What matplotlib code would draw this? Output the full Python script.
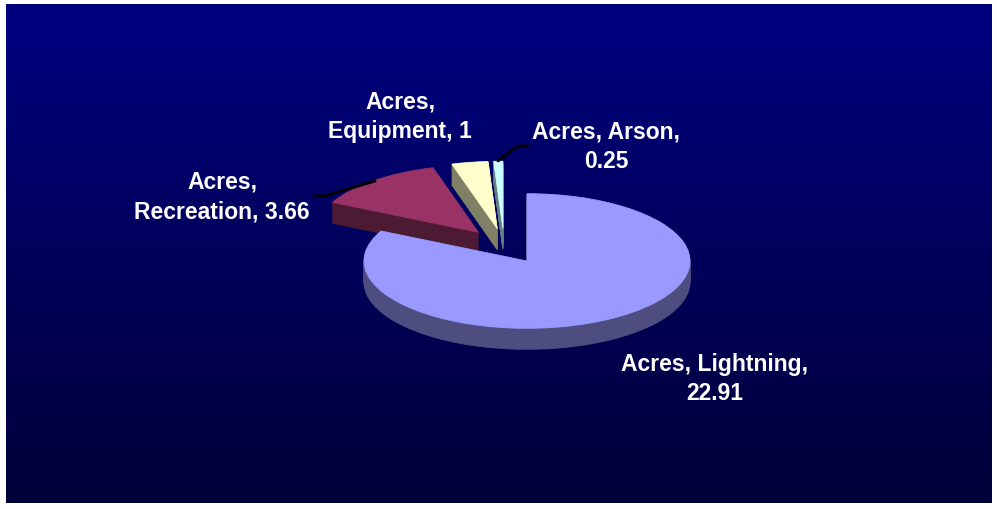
import numpy as np
import matplotlib
matplotlib.use("Agg")
import matplotlib.pyplot as plt
from matplotlib.colors import to_rgb

# ---- data ----
categories = ["Lightning", "Recreation", "Equipment", "Arson"]
acres = [22.91, 3.66, 1, 0.25]
series_name = "Acres"
top_colors = ["#9999FF", "#993366", "#FFFFCC", "#CCFFFF"]
explode = [0, 0.245, 0.245, 0.245]
label_breaks = ["after_cat", "after_series", "after_series", "after_cat"]

W, H = 997, 510
fig = plt.figure(figsize=(W / 100, H / 100), dpi=100, facecolor="white")

# ---- gradient background ----
bx0, by0, bx1, by1 = 6, 5, 991, 504
bg = fig.add_axes([bx0 / W, (H - by1) / H, (bx1 - bx0) / W, (by1 - by0) / H])
t = np.linspace(0, 1, 256)[:, None, None]
c_top = np.array([0, 0, 128]) / 255
c_bot = np.array([0, 0, 56]) / 255
img = c_top + (c_bot - c_top) * t
bg.imshow(img, aspect="auto", extent=[0, 1, 0, 1])
bg.axis("off")

# ---- 3D pie ----
ax = fig.add_axes([0, 0, 1, 1])
ax.set_facecolor("none")
k = 0.413          # vertical squash (tilt)
cx, cy = 527, 262  # pixel centre of top face
R = 163            # pixel radius
depth = 21         # pixel thickness
shift_px = (-23, -16)  # extra displacement of the exploded group

side_colors = [tuple(0.5 * c for c in to_rgb(col)) for col in top_colors]

groups = [([0], (0.0, 0.0), 2), ([1, 2, 3], (shift_px[0] / R, -shift_px[1] / (R * k)), 1)]
for members, (ox, oy), base in groups:
    for d in range(depth, -1, -1):
        wedges, _ = ax.pie(acres, explode=explode, startangle=90, counterclock=False,
                           radius=1, center=(ox, oy - d / (R * k)),
                           wedgeprops=dict(linewidth=0))
        for i, w in enumerate(wedges):
            if i not in members:
                w.remove()
                continue
            col = top_colors[i] if d == 0 else side_colors[i]
            w.set_facecolor(col)
            w.set_edgecolor(col)
            w.set_linewidth(0.6)
            w.set_zorder(base + (depth - d) / 100.0)

ax.set_aspect("auto")
ax.set_xlim((0 - cx) / R, (W - cx) / R)
ax.set_ylim((cy - H) / (R * k), cy / (R * k))
ax.axis("off")

# ---- labels / leader lines (pixel coordinates) ----
ov = fig.add_axes([0, 0, 1, 1])
ov.set_xlim(0, W)
ov.set_ylim(H, 0)
ov.axis("off")
ov.set_facecolor("none")

labels = []
for cat, v, br in zip(categories, acres, label_breaks):
    if br == "after_cat":
        labels.append(f"{series_name}, {cat},\n{v:g}")
    else:
        labels.append(f"{series_name},\n{cat}, {v:g}")

label_pos = [(715, 379), (222, 197), (400, 117), (606, 147)]
for txt, (x, y) in zip(labels, label_pos):
    ov.text(x, y, txt, color="white", fontsize=16.5, fontweight="bold",
            family=["Liberation Sans", "DejaVu Sans"], ha="center", va="center",
            linespacing=1.35, zorder=10)

ov.plot([314, 325, 375], [197, 197, 182], color="black", lw=2, solid_capstyle="round", zorder=9)
ov.plot([498, 518, 528], [162, 147, 147], color="black", lw=2, solid_capstyle="round", zorder=9)

fig.savefig("out.png", dpi=100, facecolor="white")
